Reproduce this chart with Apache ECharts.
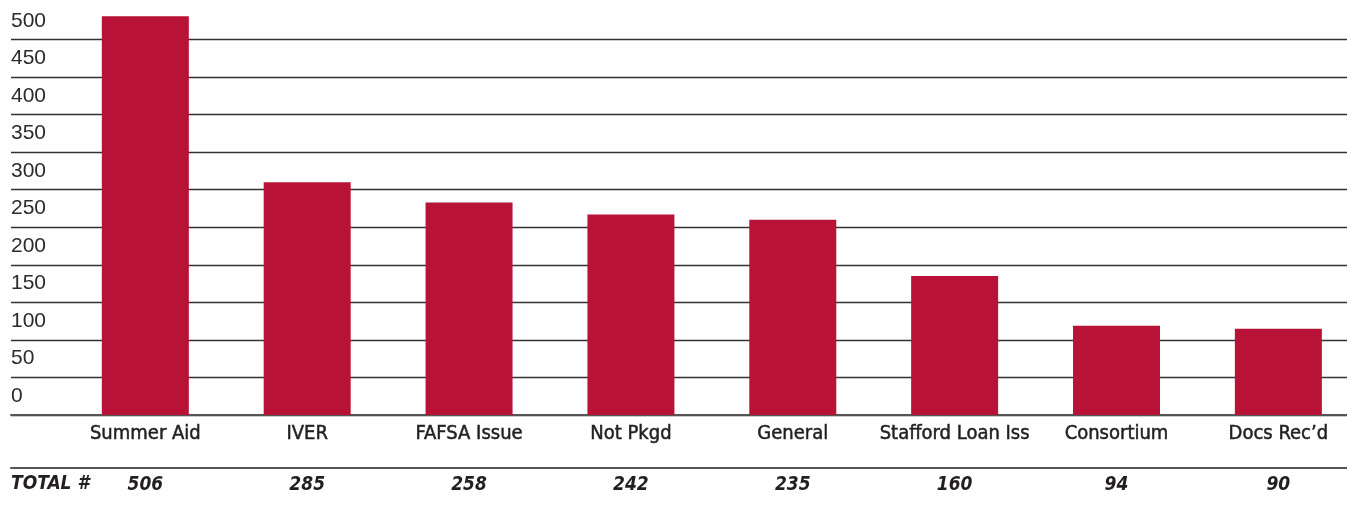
<!DOCTYPE html>
<html>
<head>
<meta charset="utf-8">
<script src="https://cdn.jsdelivr.net/npm/echarts@6/dist/echarts.min.js"></script>
<style>
html,body{margin:0;padding:0;background:#fff;}
#c{width:1347px;height:506px;}
</style>
</head>
<body>
<div id="c"></div>
<script>
const categories = ['Summer Aid', 'IVER', 'FAFSA Issue', 'Not Pkgd', 'General', 'Stafford Loan Iss', 'Consortium', 'Docs Rec\u2019d'];
const values = [506, 285, 258, 242, 235, 160, 94, 90];
const totals = ['506', '285', '258', '242', '235', '160', '94', '90'];
const yTickLabels = [0, 50, 100, 150, 200, 250, 300, 350, 400, 450, 500];
const gridLineValues = [-25, 25, 75, 125, 175, 225, 275, 325, 375, 425, 475];

const narrow = '"Liberation Sans Narrow", "DejaVu Sans Condensed", "Liberation Sans", sans-serif';
const yMin = -25, yMax = 525;

const chart = echarts.init(document.getElementById('c'));
chart.setOption({
  animation: false,
  backgroundColor: '#fff',
  grid: [
    { left: 11, right: 0, top: 2, bottom: 91, outerBoundsMode: 'none' },
    { left: 64.4, width: 1294.9, top: 2, bottom: 91, outerBoundsMode: 'none' }
  ],
  xAxis: [
    { gridIndex: 0, type: 'category', data: categories, position: 'bottom',
      axisLine: { show: true, onZero: false, lineStyle: { color: '#555', width: 2 } },
      axisTick: { show: false }, axisLabel: { show: false }, splitLine: { show: false } },
    { gridIndex: 0, type: 'category', data: categories, position: 'bottom', offset: 53,
      axisLine: { show: true, onZero: false, lineStyle: { color: '#555', width: 2 } },
      axisTick: { show: false }, axisLabel: { show: false }, splitLine: { show: false } },
    { gridIndex: 1, type: 'category', data: categories, position: 'bottom',
      axisLine: { show: false, onZero: false }, axisTick: { show: false },
      axisLabel: { show: true, interval: 0, margin: 9, fontFamily: narrow, fontSize: 20, lineHeight: 20,
        color: '#231f20', textBorderColor: '#231f20', textBorderWidth: 0.5 } },
    { gridIndex: 1, type: 'category', data: totals, position: 'bottom', offset: 53,
      axisLine: { show: false, onZero: false }, axisTick: { show: false },
      axisLabel: { show: true, interval: 0, margin: 8, fontFamily: narrow, fontSize: 19, lineHeight: 19,
        fontWeight: 'bold', fontStyle: 'italic', color: '#231f20' } }
  ],
  yAxis: [
    { gridIndex: 0, type: 'value', min: yMin, max: yMax,
      axisLine: { show: false },
      axisTick: { show: false, customValues: gridLineValues },
      splitLine: { show: true, lineStyle: { color: '#333', width: 1.3 } },
      axisLabel: { show: true, customValues: yTickLabels, inside: true, align: 'left', margin: 0,
        fontFamily: '"Liberation Sans", Arial, sans-serif', fontSize: 21, color: '#2b2b2b' } },
    { gridIndex: 1, type: 'value', min: yMin, max: yMax, startValue: yMin,
      axisLine: { show: false }, axisTick: { show: false }, axisLabel: { show: false }, splitLine: { show: false } }
  ],
  graphic: [
    { type: 'text', left: 11, top: 475,
      style: { text: 'TOTAL #', font: 'italic bold 19px ' + narrow, fill: '#231f20' } }
  ],
  series: [
    { type: 'bar', xAxisIndex: 2, yAxisIndex: 1, data: values, barWidth: 87,
      itemStyle: { color: '#b81237' }, clip: false }
  ]
});
</script>
</body>
</html>
